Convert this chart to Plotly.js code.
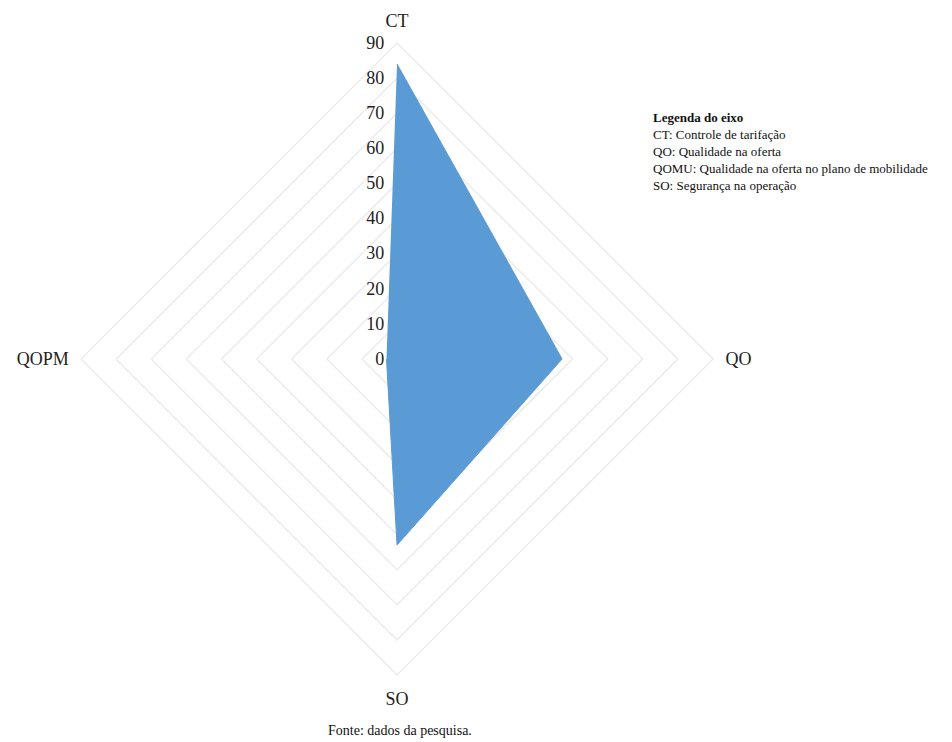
<!DOCTYPE html>
<html>
<head>
<meta charset="utf-8">
<script src="https://cdn.plot.ly/plotly-3.0.1.min.js"></script>
<style>html,body{margin:0;padding:0;background:#fff;}#chart{width:952px;height:742px;}</style>
</head>
<body>
<div id="chart"></div>
<script>
const categories = ["CT", "QO", "SO", "QOPM"];
const values = [84, 47, 53, 3];
const radialTicks = [0, 10, 20, 30, 40, 50, 60, 70, 80, 90];
const legendTitle = "Legenda do eixo";
const legendLines = [
  "CT: Controle de tarifação",
  "QO: Qualidade na oferta",
  "QOMU: Qualidade na oferta no plano de mobilidade",
  "SO: Segurança na operação"
];
const sourceNote = "Fonte: dados da pesquisa.";

const serif = "Liberation Serif, Times New Roman, serif";
const gridColor = "#ececec";

const trace = {
  type: "scatterpolar",
  r: values,
  theta: categories,
  fill: "toself",
  fillcolor: "#5b9bd5",
  line: {color: "#5b9bd5", width: 1},
  mode: "lines",
  hoverinfo: "skip"
};

const layout = {
  width: 952, height: 742,
  margin: {l: 0, r: 0, t: 0, b: 0},
  paper_bgcolor: "#ffffff",
  showlegend: false,
  font: {family: serif, color: "#000000"},
  polar: {
    domain: {x: [0.0851, 0.749], y: [0.0903, 0.9421]},
    bgcolor: "rgba(0,0,0,0)",
    gridshape: "linear",
    radialaxis: {
      range: [0, 90],
      tickvals: radialTicks,
      ticktext: radialTicks.map(String),
      angle: 90,
      side: "counterclockwise",
      showline: false,
      ticks: "outside",
      ticklen: 6,
      tickcolor: "rgba(0,0,0,0)",
      showgrid: true,
      gridcolor: gridColor,
      gridwidth: 1.5,
      tickfont: {family: serif, size: 18, color: "#222"},
      tickangle: 90
    },
    angularaxis: {
      direction: "clockwise",
      rotation: 90,
      showgrid: false,
      showline: true,
      linecolor: gridColor,
      linewidth: 1.5,
      ticks: "outside",
      ticklen: 8,
      tickcolor: "rgba(0,0,0,0)",
      tickfont: {family: serif, size: 18, color: "#222"}
    }
  },
  annotations: [
    {
      xref: "paper", yref: "paper", x: 651/952, y: 1 - 108/742,
      xanchor: "left", yanchor: "top", align: "left",
      showarrow: false,
      text: "<b>" + legendTitle + "</b><br>" + legendLines.join("<br>"),
      font: {family: serif, size: 13, color: "#111"}
    },
    {
      xref: "paper", yref: "paper", x: 400/952, y: 1 - 730/742,
      xanchor: "center", yanchor: "middle",
      showarrow: false,
      text: sourceNote,
      font: {family: serif, size: 14, color: "#111"}
    }
  ]
};

Plotly.newPlot("chart", [trace], layout, {displayModeBar: false, staticPlot: true});
</script>
</body>
</html>
